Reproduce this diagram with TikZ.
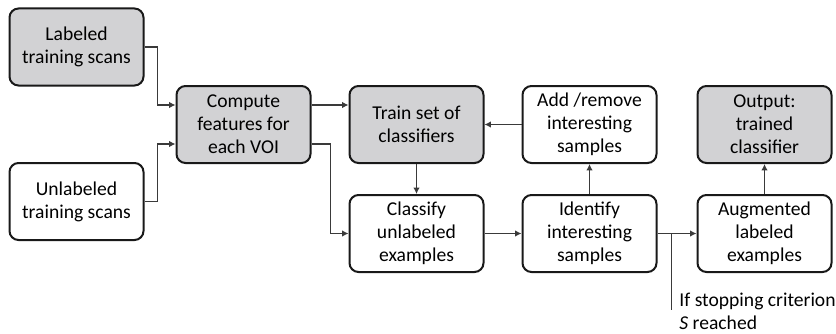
\documentclass[tikz,border=0pt]{standalone}
\usepackage{fontspec}
\setmainfont{Carlito}
\usepackage{tikz}
\usetikzlibrary{positioning, arrows.meta, calc}

\definecolor{boxgray}{HTML}{D2D2D4}
\definecolor{linegray}{HTML}{3A3A3A}

\begin{document}
\begin{tikzpicture}[
  x=0.5pt, y=0.5pt,
  font=\fontsize{9.8}{11.6}\selectfont,
  blk/.style={draw=black!90, line width=1pt, rounded corners=4.5pt,
              minimum width=67pt, minimum height=38.5pt, align=center,
              inner sep=1pt},
  grey/.style={fill=boxgray},
  arr/.style={-{Latex[length=3.2pt, width=3.2pt]}, draw=linegray, line width=0.55pt},
  lin/.style={draw=linegray, line width=0.55pt},
]
\useasboundingbox (0,0) rectangle (836,333);

%% ---- inputs ----
\node[blk, grey] (lab)   at (76.5,286)  {Labeled\\training scans};
\node[blk]       (unlab) at (76.5,131.5) {Unlabeled\\training scans};

%% ---- features and the loop ----
\node[blk, grey] (comp)  at (243.5,208.5) {Compute\\features for\\each VOI};
\node[blk, grey] (train) at (416.5,208.5) {Train set of\\classifiers};
\node[blk]       (clas)  at (416.5,99.5)  {Classify\\unlabeled\\examples};
\node[blk]       (addrm) at (589.5,208.5) {Add /remove\\interesting\\samples};
\node[blk]       (iden)  at (589.5,99.5)  {Identify\\interesting\\samples};

%% ---- output ----
\node[blk, grey] (outp)  at (764.5,208.5) {Output:\\trained\\classifier};
\node[blk]       (aug)   at (764.5,99.5)  {Augmented\\labeled\\examples};

%% ---- connectors ----
\draw[arr] (lab.east) -- ++(13,0) |- ([yshift=9.75pt]comp.west);
\draw[arr] (unlab.east) -- ++(13,0) |- ([yshift=-9.75pt]comp.west);
\draw[arr] ([yshift=9.75pt]comp.east) -- ([yshift=9.75pt]train.west);
\draw[arr] ([yshift=-9.75pt]comp.east) -- ++(19,0) |- (clas.west);
\draw[arr] (train.south) -- (clas.north);
\draw[arr] (clas.east) -- (iden.west);
\draw[arr] (iden.north) -- (addrm.south);
\draw[arr] (addrm.west) -- (train.east);
\draw[arr] (iden.east) -- (aug.west);
\draw[arr] (aug.north) -- (outp.south);

%% stopping branch
\coordinate (brk) at ($(iden.east)!0.37!(aug.west)$);
\coordinate (brkend) at (brk |- 0,23);
\draw[lin] (brk) -- (brkend);
\node[anchor=west, align=left, inner sep=0pt] (stop) at (679,22)
  {If stopping criterion\\\textit{S} reached};
\end{tikzpicture}
\end{document}
